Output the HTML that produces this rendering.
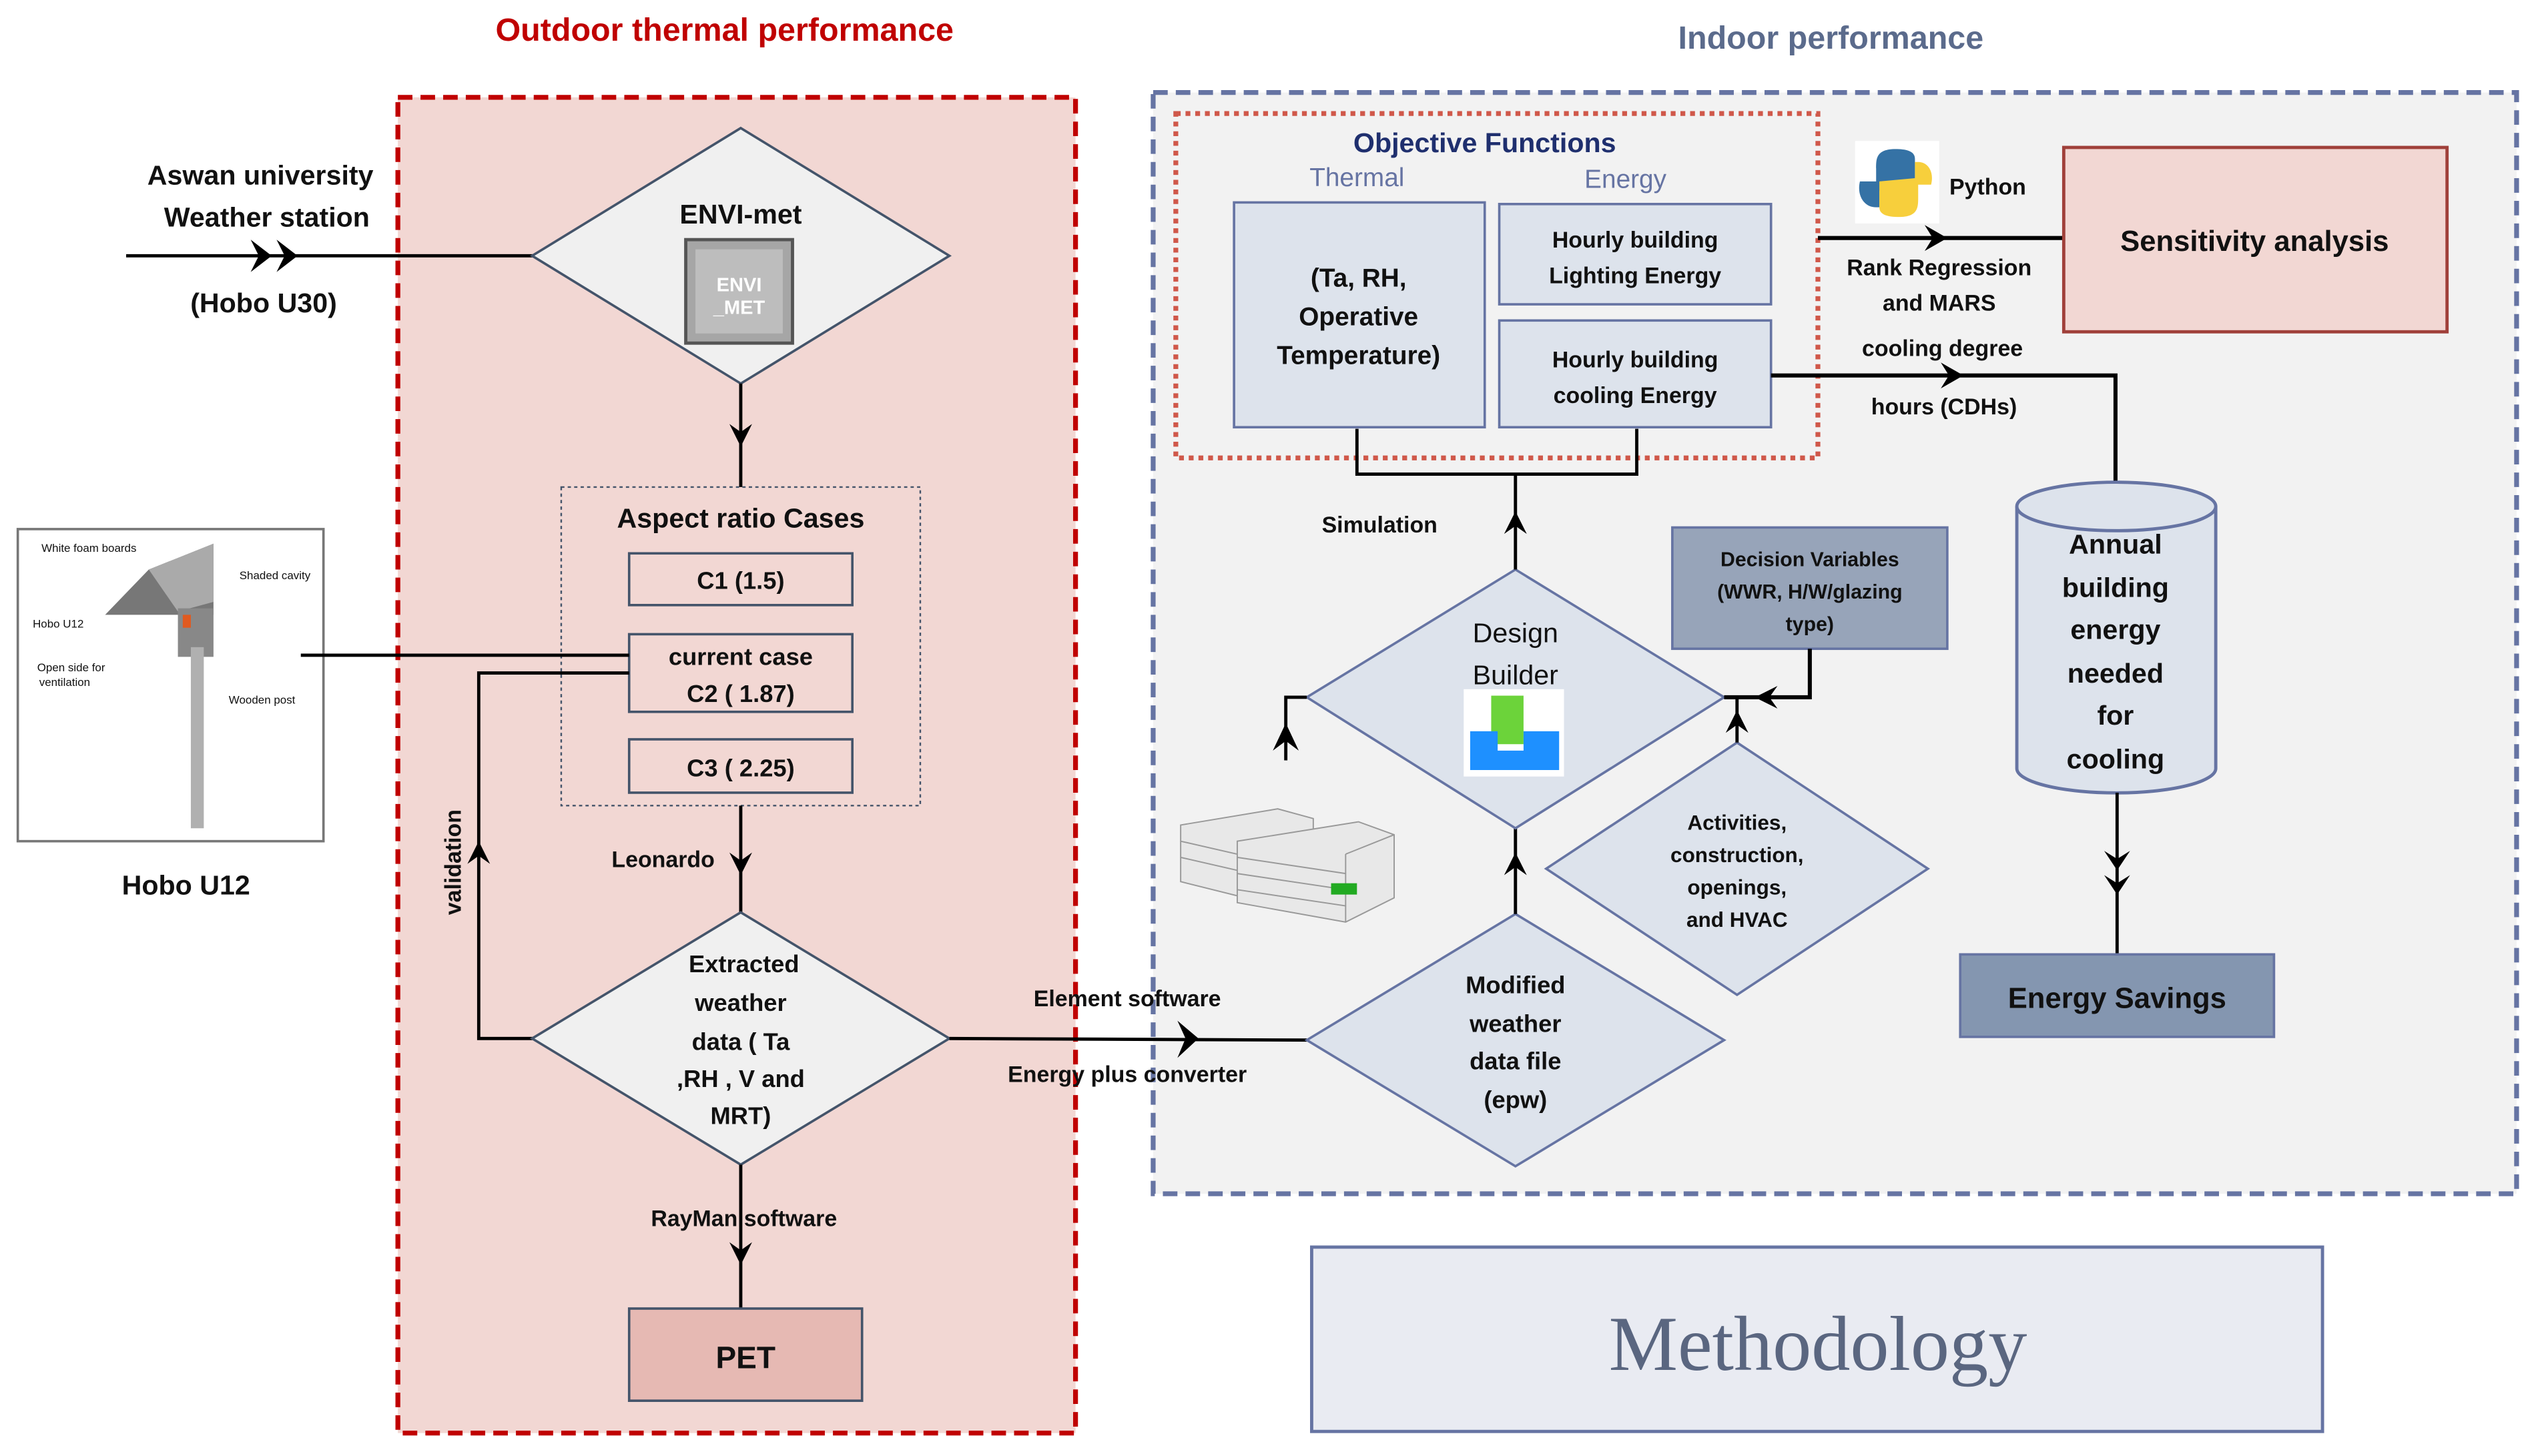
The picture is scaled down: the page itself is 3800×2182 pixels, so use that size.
<!DOCTYPE html>
<html><head><meta charset="utf-8"><style>
html,body{margin:0;padding:0;background:#fff;}
svg{display:block;}
text{font-family:"Liberation Sans",Arial,sans-serif;font-weight:bold;text-anchor:middle;fill:#111;}
</style></head><body>
<svg width="3800" height="2182" viewBox="0 0 1568 900" xmlns="http://www.w3.org/2000/svg">
<rect width="1568" height="900" fill="#fff"/>
<!-- titles -->
<text x="448" y="25" font-size="20" style="fill:#c00000">Outdoor thermal performance</text>
<text x="1132" y="30" font-size="20" style="fill:#5b6b8c">Indoor performance</text>

<!-- big boxes -->
<rect x="246" y="60" width="419" height="826" fill="#f2d7d3" stroke="#c00000" stroke-width="3" stroke-dasharray="9,5"/>
<rect x="713" y="57" width="843" height="681" fill="#f2f2f2" stroke="#6674a3" stroke-width="3" stroke-dasharray="9,5"/>
<rect x="727" y="70" width="397" height="213" fill="none" stroke="#d0584a" stroke-width="3" stroke-dasharray="3,3"/>

<!-- left input -->
<text x="161" y="114" font-size="17">Aswan university</text>
<text x="165" y="140" font-size="17">Weather station</text>
<text x="163" y="193" font-size="17">(Hobo U30)</text>
<line x1="78" y1="158" x2="330" y2="158" stroke="#000" stroke-width="2"/>
<path d="M155 148 L168 158 L155 168 L160 158 Z M171 148 L184 158 L171 168 L176 158 Z" fill="#000"/>

<!-- ENVI-met diamond -->
<polygon points="458,79 587,158 458,237 329,158" fill="#f0f0f0" stroke="#44546a" stroke-width="1.5"/>
<text x="458" y="138" font-size="17">ENVI-met</text>
<rect x="424" y="148" width="66" height="64" fill="#a6a6a6" stroke="#555" stroke-width="2"/>
<rect x="430" y="154" width="54" height="52" fill="#bdbdbd"/>
<text x="457" y="180" font-size="12" style="fill:#fff">ENVI</text>
<text x="457" y="194" font-size="12" style="fill:#fff">_MET</text>
<line x1="458" y1="237" x2="458" y2="301" stroke="#000" stroke-width="2"/>
<path d="M451 262 L458 276 L465 262 L458 267 Z" fill="#000"/>

<!-- aspect ratio -->
<rect x="347" y="301" width="222" height="197" fill="none" stroke="#44546a" stroke-width="1" stroke-dasharray="2,2"/>
<text x="458" y="326" font-size="17">Aspect ratio Cases</text>
<rect x="389" y="342" width="138" height="32" fill="#f2d7d3" stroke="#44546a" stroke-width="1.5"/>
<text x="458" y="364" font-size="15">C1 (1.5)</text>
<rect x="389" y="392" width="138" height="48" fill="#f2d7d3" stroke="#44546a" stroke-width="1.5"/>
<text x="458" y="411" font-size="15">current case</text>
<text x="458" y="434" font-size="15">C2 ( 1.87)</text>
<rect x="389" y="457" width="138" height="33" fill="#f2d7d3" stroke="#44546a" stroke-width="1.5"/>
<text x="458" y="480" font-size="15">C3 ( 2.25)</text>

<!-- Hobo U12 -->
<rect x="11" y="327" width="189" height="193" fill="#fff" stroke="#777" stroke-width="1.5"/>
<polygon points="65,380 92,352 132,336 132,380" fill="#777"/>
<polygon points="92,352 132,336 132,372 110,378" fill="#aaa"/>
<rect x="110" y="376" width="22" height="30" fill="#888"/>
<rect x="113" y="380" width="5" height="8" fill="#e05a20"/>
<rect x="118" y="400" width="8" height="112" fill="#b0b0b0"/>
<text x="55" y="341" font-size="7" style="font-weight:normal">White foam boards</text>
<text x="170" y="358" font-size="7" style="font-weight:normal">Shaded cavity</text>
<text x="36" y="388" font-size="7" style="font-weight:normal">Hobo U12</text>
<text x="44" y="415" font-size="7" style="font-weight:normal">Open side for</text>
<text x="40" y="424" font-size="7" style="font-weight:normal">ventilation</text>
<text x="162" y="435" font-size="7" style="font-weight:normal">Wooden post</text>
<text x="115" y="553" font-size="17">Hobo U12</text>
<line x1="186" y1="405" x2="389" y2="405" stroke="#000" stroke-width="2"/>

<!-- validation -->
<polyline points="389,416 296,416 296,642 330,642" fill="none" stroke="#000" stroke-width="2"/>
<path d="M289 534 L296 520 L303 534 L296 529 Z" fill="#000"/>
<text x="0" y="0" font-size="14" transform="translate(285,533) rotate(-90)">validation</text>

<!-- Leonardo -->
<line x1="458" y1="498" x2="458" y2="565" stroke="#000" stroke-width="2"/>
<path d="M451 527 L458 541 L465 527 L458 532 Z" fill="#000"/>
<text x="410" y="536" font-size="14">Leonardo</text>

<!-- Extracted diamond -->
<polygon points="458,564 587,642 458,720 329,642" fill="#f0f0f0" stroke="#44546a" stroke-width="1.5"/>
<text x="460" y="601" font-size="15">Extracted</text>
<text x="458" y="625" font-size="15">weather</text>
<text x="458" y="649" font-size="15">data ( Ta</text>
<text x="458" y="672" font-size="15">,RH , V and</text>
<text x="458" y="695" font-size="15">MRT)</text>

<!-- RayMan -->
<line x1="458" y1="720" x2="458" y2="809" stroke="#000" stroke-width="2"/>
<path d="M451 768 L458 782 L465 768 L458 773 Z" fill="#000"/>
<text x="460" y="758" font-size="14">RayMan software</text>
<rect x="389" y="809" width="144" height="57" fill="#e6b9b3" stroke="#44546a" stroke-width="1.5"/>
<text x="461" y="846" font-size="19">PET</text>

<!-- Element software -->
<line x1="587" y1="642" x2="808" y2="643" stroke="#000" stroke-width="2"/>
<path d="M728 631 L741 642 L728 654 L733 642 Z" fill="#000"/>
<text x="697" y="622" font-size="14">Element software</text>
<text x="697" y="669" font-size="14">Energy plus converter</text>

<!-- Modified weather diamond -->
<polygon points="937,565 1066,643 937,721 808,643" fill="#dde3ec" stroke="#6674a3" stroke-width="1.5"/>
<text x="937" y="614" font-size="15">Modified</text>
<text x="937" y="638" font-size="15">weather</text>
<text x="937" y="661" font-size="15">data file</text>
<text x="937" y="685" font-size="15">(epw)</text>
<line x1="937" y1="565" x2="937" y2="512" stroke="#000" stroke-width="2"/>
<path d="M930 541 L937 527 L944 541 L937 536 Z" fill="#000"/>

<!-- Design builder -->
<polygon points="937,352 1066,431 937,512 808,431" fill="#dde3ec" stroke="#6674a3" stroke-width="1.5"/>
<text x="937" y="397" font-size="17" style="font-weight:normal;fill:#111">Design</text>
<text x="937" y="423" font-size="17" style="font-weight:normal;fill:#111">Builder</text>
<rect x="905" y="426" width="62" height="54" fill="#fff"/>
<rect x="922" y="430" width="20" height="30" fill="#6cd33a"/>
<path d="M909 452 L926 452 L926 464 L942 464 L942 452 L964 452 L964 476 L909 476 Z" fill="#1e90ff"/>
<line x1="937" y1="352" x2="937" y2="294" stroke="#000" stroke-width="2"/>
<path d="M930 330 L937 316 L944 330 L937 325 Z" fill="#000"/>
<text x="853" y="329" font-size="14">Simulation</text>
<polyline points="839,265 839,293 1012,293 1012,265" fill="none" stroke="#000" stroke-width="2"/>
<polyline points="808,431 795,431 795,470" fill="none" stroke="#000" stroke-width="2"/>
<path d="M787 464 L795 447 L803 464 L795 458 Z" fill="#000"/>

<!-- building image -->
<g stroke="#999" stroke-width="0.8" fill="#e8e8e8">
<polygon points="730,510 790,500 812,506 812,545 770,555 730,545"/>
<polygon points="765,520 840,508 862,516 862,555 832,570 765,558"/>
<line x1="765" y1="530" x2="832" y2="540"/><line x1="765" y1="540" x2="832" y2="550"/><line x1="765" y1="550" x2="832" y2="560"/>
<line x1="832" y1="528" x2="832" y2="570"/><line x1="832" y1="528" x2="862" y2="516"/>
<line x1="730" y1="520" x2="765" y2="528"/><line x1="730" y1="530" x2="765" y2="538"/>
</g>
<rect x="823" y="546" width="16" height="7" fill="#22aa22"/>

<!-- Activities diamond -->
<polygon points="1074,459 1192,537 1074,615 956,537" fill="#dde3ec" stroke="#6674a3" stroke-width="1.5"/>
<text x="1074" y="513" font-size="13">Activities,</text>
<text x="1074" y="533" font-size="13">construction,</text>
<text x="1074" y="553" font-size="13">openings,</text>
<text x="1074" y="573" font-size="13">and HVAC</text>
<line x1="1074" y1="459" x2="1074" y2="431" stroke="#000" stroke-width="2"/>
<path d="M1067 453 L1074 439 L1081 453 L1074 448 Z" fill="#000"/>

<!-- Decision variables -->
<rect x="1034" y="326" width="170" height="75" fill="#97a4b9" stroke="#6674a3" stroke-width="1.5"/>
<text x="1119" y="350" font-size="12.5">Decision Variables</text>
<text x="1119" y="370" font-size="12.5">(WWR, H/W/glazing</text>
<text x="1119" y="390" font-size="12.5">type)</text>
<polyline points="1119,401 1119,431 1066,431" fill="none" stroke="#000" stroke-width="2.5"/>
<path d="M1099 424 L1085 431 L1099 438 L1094 431 Z" fill="#000"/>

<!-- Objective functions -->
<text x="918" y="94" font-size="17" style="fill:#1f2f6e">Objective Functions</text>
<text x="839" y="115" font-size="16" style="fill:#6674a3;font-weight:normal">Thermal</text>
<text x="1005" y="116" font-size="16" style="fill:#6674a3;font-weight:normal">Energy</text>
<rect x="763" y="125" width="155" height="139" fill="#dde3ec" stroke="#6674a3" stroke-width="1.5"/>
<text x="840" y="177" font-size="16">(Ta, RH,</text>
<text x="840" y="201" font-size="16">Operative</text>
<text x="840" y="225" font-size="16">Temperature)</text>
<rect x="927" y="126" width="168" height="62" fill="#dde3ec" stroke="#6674a3" stroke-width="1.5"/>
<text x="1011" y="153" font-size="14">Hourly building</text>
<text x="1011" y="175" font-size="14">Lighting Energy</text>
<rect x="927" y="198" width="168" height="66" fill="#dde3ec" stroke="#6674a3" stroke-width="1.5"/>
<text x="1011" y="227" font-size="14">Hourly building</text>
<text x="1011" y="249" font-size="14">cooling Energy</text>

<!-- Python -->
<rect x="1147" y="87" width="52" height="51" fill="#fff"/>
<path d="M1172 92 C1160 92 1160 98 1160 104 L1160 112 L1150 112 C1148 120 1152 128 1160 128 L1162 128 L1162 118 L1184 116 L1184 98 C1184 93 1178 92 1172 92 Z" fill="#3572a5"/>
<path d="M1174 134 C1186 134 1186 128 1186 122 L1186 114 L1194 114 C1196 106 1192 100 1186 100 L1184 100 L1184 110 L1162 112 L1162 128 C1162 133 1168 134 1174 134 Z" fill="#f7cf3c"/>
<text x="1229" y="120" font-size="14">Python</text>
<line x1="1124" y1="147" x2="1276" y2="147" stroke="#000" stroke-width="2.5"/>
<path d="M1190 139 L1204 147 L1190 155 L1195 147 Z" fill="#000"/>
<text x="1199" y="170" font-size="14">Rank Regression</text>
<text x="1199" y="192" font-size="14">and MARS</text>
<rect x="1276" y="91" width="237" height="114" fill="#f2d7d3" stroke="#a0403a" stroke-width="2"/>
<text x="1394" y="155" font-size="18">Sensitivity analysis</text>

<!-- cooling degree -->
<polyline points="1095,232 1308,232 1308,298" fill="none" stroke="#000" stroke-width="2.5"/>
<path d="M1200 224 L1214 232 L1200 240 L1205 232 Z" fill="#000"/>
<text x="1201" y="220" font-size="14">cooling degree</text>
<text x="1202" y="256" font-size="14">hours (CDHs)</text>

<!-- cylinder -->
<path d="M1247 313 L1247 475 A61 15 0 0 0 1370 475 L1370 313" fill="#dde3ec" stroke="#6674a3" stroke-width="2"/>
<ellipse cx="1308.5" cy="313" rx="61.5" ry="15" fill="#dde3ec" stroke="#6674a3" stroke-width="2"/>
<text x="1308" y="342" font-size="17">Annual</text>
<text x="1308" y="369" font-size="17">building</text>
<text x="1308" y="395" font-size="17">energy</text>
<text x="1308" y="422" font-size="17">needed</text>
<text x="1308" y="448" font-size="17">for</text>
<text x="1308" y="475" font-size="17">cooling</text>
<line x1="1309" y1="490" x2="1309" y2="590" stroke="#000" stroke-width="2"/>
<path d="M1301 526 L1309 538 L1317 526 L1309 531 Z M1301 541 L1309 553 L1317 541 L1309 546 Z" fill="#000"/>
<rect x="1212" y="590" width="194" height="51" fill="#8496b0" stroke="#6674a3" stroke-width="1.5"/>
<text x="1309" y="623" font-size="18" style="fill:#111">Energy Savings</text>

<!-- Methodology -->
<rect x="811" y="771" width="625" height="114" fill="#e9ebf2" stroke="#6674a3" stroke-width="2"/>
<text x="1124" y="847" font-size="48" style="font-family:'Liberation Serif',serif;font-weight:normal;fill:#5a6680">Methodology</text>
</svg>
</body></html>
